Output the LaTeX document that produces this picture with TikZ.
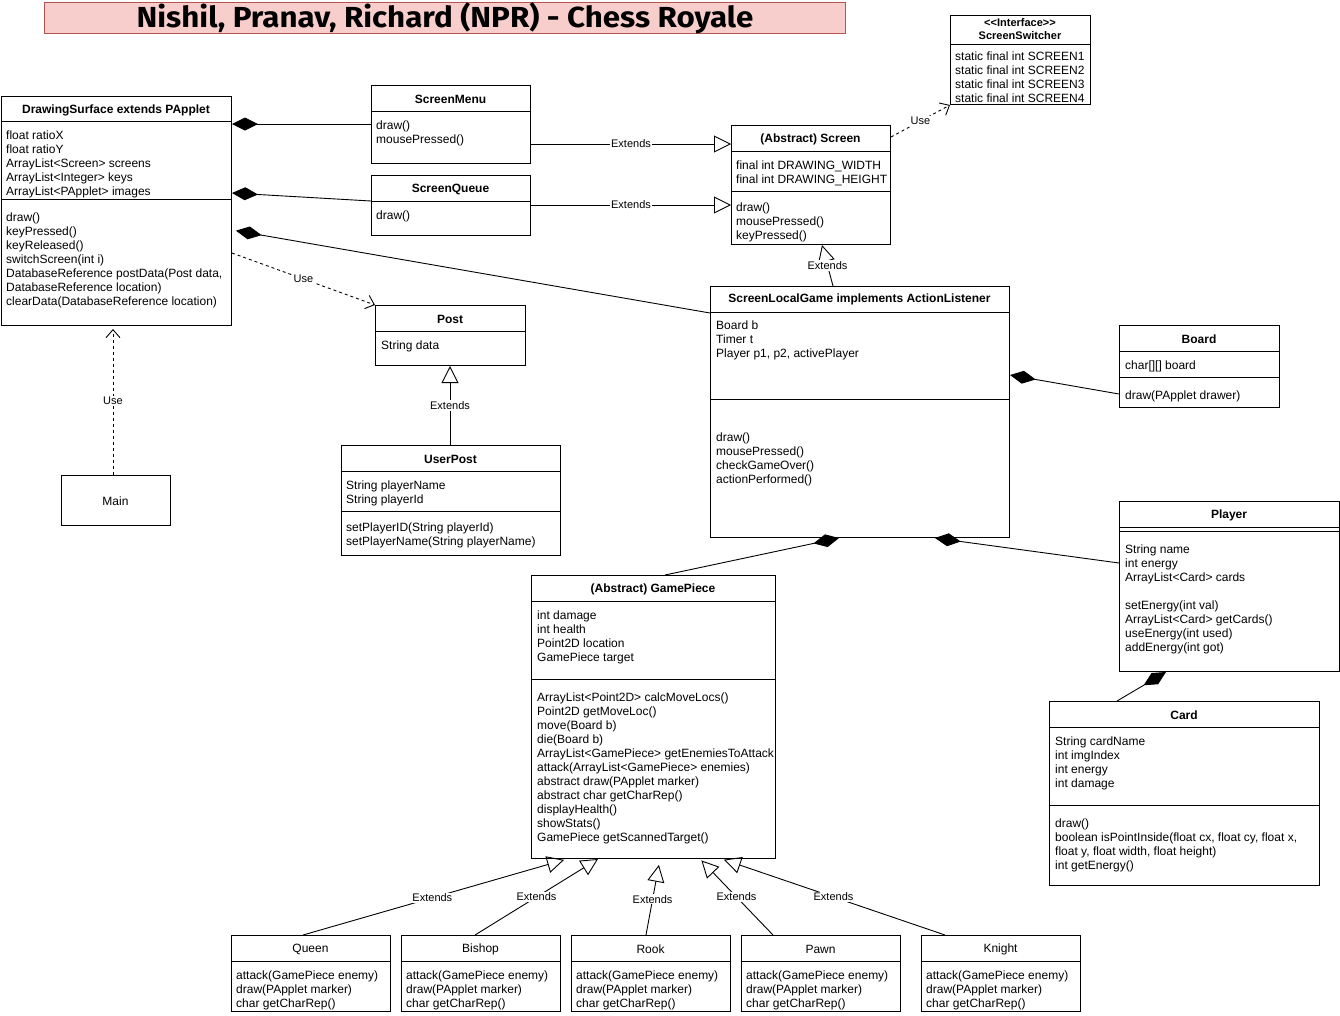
\documentclass[tikz,border=0pt]{standalone}
\usepackage{fontspec}
\usepackage{graphicx}
\setmainfont{Liberation Sans}
\newfontfamily\titlefont{Fira Sans}
\usetikzlibrary{arrows.meta}
\definecolor{titlefill}{HTML}{F8CECC}
\definecolor{titleborder}{HTML}{B85450}
\newcommand\ls[1]{\begin{tabular}[t]{@{}l@{}}#1\end{tabular}}
\tikzset{
  box/.style={draw, line width=1pt, fill=white, inner sep=0pt, anchor=north west},
  ttl/.style={font=\fontsize{12}{14}\selectfont\bfseries, inner sep=0pt, yshift=-1pt},
  plain/.style={font=\fontsize{12}{14}\selectfont, inner sep=0pt, yshift=-1pt},
  txt/.style={font=\fontsize{12}{14}\selectfont, inner sep=0pt, anchor=base west, yshift=-1pt},
  sepl/.style={line width=1pt},
  lbl/.style={font=\fontsize{11}{13}\selectfont, fill=white, inner sep=1pt},
  comp/.style={line width=0.9pt, -{Diamond[length=26pt,width=13pt]}},
  ext/.style={line width=0.9pt, -{Triangle[open,length=17pt,width=17pt]}},
  use/.style={line width=0.9pt, dash pattern=on 3pt off 3pt, -{Straight Barb[length=8pt,width=14pt]}},
}
\begin{document}
\begin{tikzpicture}[x=1pt,y=-1pt]
\fill[white] (0,0) rectangle (1340,1015);
\useasboundingbox (0,0) rectangle (1340,1015);

% title
\node[draw=titleborder, fill=titlefill, line width=1pt, minimum width=801, minimum height=29, anchor=north west, inner sep=0pt,
      font=\titlefont\bfseries\fontsize{29}{32}\selectfont] (title) at (44,2) {\scalebox{1.08}[1]{Nishil, Pranav, Richard (NPR) - Chess Royale}};

% ScreenSwitcher
\node[box, minimum width=140, minimum height=89] (sswitch) at (950,15) {};
\node[font=\fontsize{11}{13}\selectfont\bfseries, inner sep=0pt, align=center] (sswitchT) at (1020,29) {<\kern0pt<Interface>\kern0pt>\\ScreenSwitcher};
\draw[sepl] (950,44) -- (1090,44);
\node[txt] (sswitchA) at (955,59) {\ls{static final int SCREEN1\\static final int SCREEN2\\static final int SCREEN3\\static final int SCREEN4}};

% DrawingSurface
\node[box, minimum width=230, minimum height=229] (ds) at (1,96) {};
\node[ttl] (dsT) at (116,109) {DrawingSurface extends PApplet};
\draw[sepl] (1,121) -- (231,121);
\node[txt] (dsA) at (6,138) {\ls{float ratioX\\float ratioY\\ArrayList<Screen> screens\\ArrayList<Integer> keys\\ArrayList<PApplet> images}};
\draw[sepl] (1,199) -- (231,199);
\node[txt] (dsM) at (6,220) {\ls{draw()\\keyPressed()\\keyReleased()\\switchScreen(int i)\\DatabaseReference postData(Post data,\\DatabaseReference location)\\clearData(DatabaseReference location)}};

% ScreenMenu
\node[box, minimum width=159, minimum height=78] (smenu) at (371,85) {};
\node[ttl] (smenuT) at (450.5,98) {ScreenMenu};
\draw[sepl] (371,111) -- (530,111);
\node[txt] (smenuM) at (376,128) {\ls{draw()\\mousePressed()}};

% ScreenQueue
\node[box, minimum width=159, minimum height=60] (squeue) at (371,175) {};
\node[ttl] (squeueT) at (450.5,188) {ScreenQueue};
\draw[sepl] (371,201) -- (530,201);
\node[txt] (squeueM) at (376,218) {\ls{draw()}};

% Screen
\node[box, minimum width=159, minimum height=119] (screen) at (731,125) {};
\node[ttl] (screenT) at (810.5,138) {(Abstract) Screen};
\draw[sepl] (731,151) -- (890,151);
\node[txt] (screenA) at (736,168) {\ls{final int DRAWING\_WIDTH\\final int DRAWING\_HEIGHT}};
\draw[sepl] (731,191) -- (890,191);
\node[txt] (screenM) at (736,210) {\ls{draw()\\mousePressed()\\keyPressed()}};

% Post
\node[box, minimum width=150, minimum height=60] (post) at (375,305) {};
\node[ttl] (postT) at (450,318) {Post};
\draw[sepl] (375,331) -- (525,331);
\node[txt] (postA) at (381,348) {\ls{String data}};

% UserPost
\node[box, minimum width=219, minimum height=110] (upost) at (341,445) {};
\node[ttl] (upostT) at (450.5,458) {UserPost};
\draw[sepl] (341,471) -- (560,471);
\node[txt] (upostA) at (346,488) {\ls{String playerName\\String playerId}};
\draw[sepl] (341,511) -- (560,511);
\node[txt] (upostM) at (346,530) {\ls{setPlayerID(String playerId)\\setPlayerName(String playerName)}};

% Main
\node[box, minimum width=109, minimum height=50] (main) at (61,475) {};
\node[plain] (mainT) at (115.5,500) {Main};

% ScreenLocalGame
\node[box, minimum width=299, minimum height=251] (slg) at (710,286) {};
\node[ttl] (slgT) at (859.5,298) {ScreenLocalGame implements ActionListener};
\draw[sepl] (710,312) -- (1009,312);
\node[txt] (slgA) at (716,328) {\ls{Board b\\Timer t\\Player p1, p2, activePlayer}};
\draw[sepl] (710,399) -- (1009,399);
\node[txt] (slgM) at (716,440) {\ls{draw()\\mousePressed()\\checkGameOver()\\actionPerformed()}};

% Board
\node[box, minimum width=160, minimum height=82] (board) at (1119,325) {};
\node[ttl] (boardT) at (1199,338) {Board};
\draw[sepl] (1119,351) -- (1279,351);
\node[txt] (boardA) at (1125,368) {\ls{char[][] board}};
\draw[sepl] (1119,377) -- (1279,377);
\node[txt] (boardM) at (1125,398) {\ls{draw(PApplet drawer)}};

% Player
\node[box, minimum width=220, minimum height=170] (player) at (1119,501) {};
\node[ttl] (playerT) at (1229,514) {Player};
\draw[sepl] (1119,527) -- (1339,527);
\draw[sepl] (1119,531) -- (1339,531);
\node[txt] (playerA) at (1125,552) {\ls{String name\\int energy\\ArrayList<Card> cards\\ \\setEnergy(int val)\\ArrayList<Card> getCards()\\useEnergy(int used)\\addEnergy(int got)}};

% Card
\node[box, minimum width=270, minimum height=184] (card) at (1049,701) {};
\node[ttl] (cardT) at (1184,714) {Card};
\draw[sepl] (1049,727) -- (1319,727);
\node[txt] (cardA) at (1055,744) {\ls{String cardName\\int imgIndex\\int energy\\int damage}};
\draw[sepl] (1049,805) -- (1319,805);
\node[txt] (cardM) at (1055,826) {\ls{draw()\\boolean isPointInside(float cx, float cy, float x,\\float y, float width, float height)\\int getEnergy()}};

% GamePiece
\node[box, minimum width=244, minimum height=283] (gp) at (531,575) {};
\node[ttl] (gpT) at (653,588) {(Abstract) GamePiece};
\draw[sepl] (531,601) -- (775,601);
\node[txt] (gpA) at (537,618) {\ls{int damage\\int health\\Point2D location\\GamePiece target}};
\draw[sepl] (531,679) -- (775,679);
\begin{scope}
\clip (532,680) rectangle (773,857);
\node[txt] (gpM) at (537,700) {\ls{ArrayList<Point2D> calcMoveLocs()\\Point2D getMoveLoc()\\move(Board b)\\die(Board b)\\ArrayList<GamePiece> getEnemiesToAttack\\attack(ArrayList<GamePiece> enemies)\\abstract draw(PApplet marker)\\abstract char getCharRep()\\displayHealth()\\showStats()\\GamePiece getScannedTarget()}};
\end{scope}

% pieces
\foreach \nm/\lab/\xx in {queen/Queen/231, bishop/Bishop/401, rook/Rook/571, pawn/Pawn/741, knight/Knight/921}{
  \node[box, minimum width=159, minimum height=76] (\nm) at (\xx,935) {};
  \node[plain] (\nm T) at (\xx+79.5,948) {\lab};
  \draw[sepl] (\xx,961) -- (\xx+159,961);
  \node[txt] (\nm M) at (\xx+5,978) {\ls{attack(GamePiece enemy)\\draw(PApplet marker)\\char getCharRep()}};
}

% connectors
\draw[comp] (smenu.west |- 0,124) -- (ds.east |- 0,124);
\draw[comp] (squeue.west |- 0,201) -- (ds.east |- 0,193);
\draw[comp, shorten >=4pt] (slg.west |- 0,313) -- (ds.east |- 0,230);
\draw[use] (ds.east |- 0,253) -- (post.north west) node[lbl, pos=0.5] {Use};
\draw[use, shorten >=3pt] (main.north -| 113,0) -- (ds.south -| 113,0) node[lbl, pos=0.5] {Use};
\draw[ext] (smenu.east |- 0,144) -- (screen.west |- 0,144) node[lbl, pos=0.5] {Extends};
\draw[ext] (squeue.east |- 0,205) -- (screen.west |- 0,205) node[lbl, pos=0.5] {Extends};
\draw[use] (screen.east |- 0,137) -- (sswitch.south west) node[lbl, pos=0.5] {Use};
\draw[ext] (slg.north -| 833,0) -- (screen.south -| 822,0) node[lbl, pos=0.5] {Extends};
\draw[ext] (upost.north -| 450,0) -- (post.south -| 450,0) node[lbl, pos=0.5] {Extends};
\draw[comp] (board.west |- 0,394) -- (slg.east |- 0,375);
\draw[comp] (player.west |- 0,563) -- (slg.south -| 935,0);
\draw[comp] (gp.north -| 665,0) -- (slg.south -| 839,0);
\draw[comp] (card.north -| 1117,0) -- (player.south -| 1166,0);
\draw[ext, shorten >=3pt] (queen.north -| 303,0) -- (gp.south -| 567,0) node[lbl, pos=0.49] {Extends};
\draw[ext] (bishop.north -| 475,0) -- (gp.south -| 598,0) node[lbl, pos=0.5] {Extends};
\draw[ext, shorten >=6pt] (rook.north -| 646,0) -- (gp.south -| 660,0) node[lbl, pos=0.47] {Extends};
\draw[ext, shorten >=2pt] (pawn.north -| 773,0) -- (gp.south -| 700,0) node[lbl, pos=0.5] {Extends};
\draw[ext, shorten >=2pt] (knight.north -| 945,0) -- (gp.south -| 722,0) node[lbl, pos=0.5] {Extends};
\end{tikzpicture}
\end{document}
